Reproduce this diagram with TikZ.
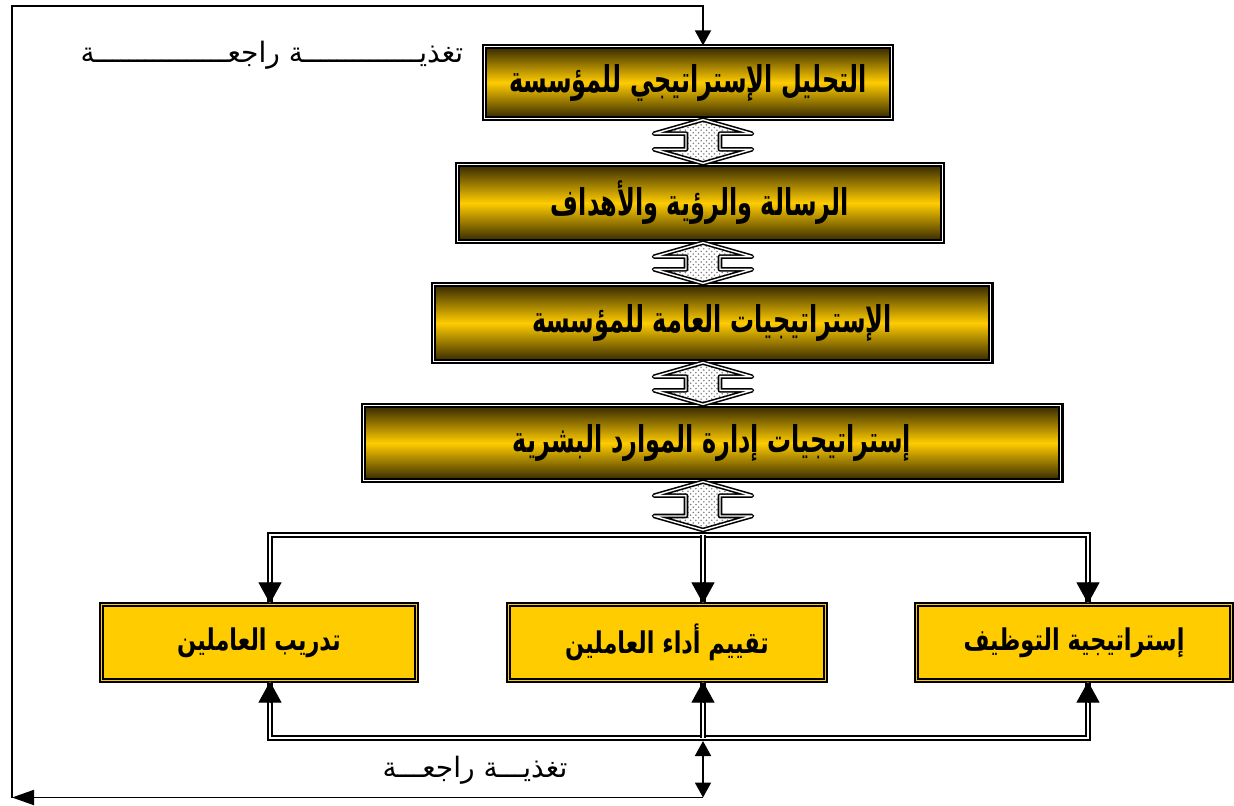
\documentclass[tikz,border=0pt]{standalone}
\usepackage{fontspec}
\usepackage{tikz}
\usetikzlibrary{arrows.meta,calc,patterns}
\newfontfamily\boxfont[Script=Arabic,FakeStretch=0.65]{DejaVu Sans}
\newfontfamily\subfont[Script=Arabic,FakeStretch=0.75]{DejaVu Sans}
\newfontfamily\labfont[Script=Arabic]{DejaVu Sans}
\TeXXeTstate=1
\definecolor{gold}{RGB}{255,204,0}
\definecolor{golddark}{RGB}{50,38,0}
\newcommand{\ar}[1]{\beginR #1\endR}
% hollow double arrow between two points on one column
\newcommand{\hollowarrow}[2]{%
  \draw[hollow] let \p1=(#1), \p2=(#2) in
    (\x1,\y1) -- (\x1+0.98cm,\y1-0.28cm) -- (\x1+0.34cm,\y1-0.28cm)
    -- (\x1+0.34cm,\y2+0.28cm) -- (\x1+0.98cm,\y2+0.28cm) -- (\x1,\y2)
    -- (\x1-0.98cm,\y2+0.28cm) -- (\x1-0.34cm,\y2+0.28cm)
    -- (\x1-0.34cm,\y1-0.28cm) -- (\x1-0.98cm,\y1-0.28cm) -- cycle;}

\tikzset{
  mainbox/.style={draw, line width=1.3pt, double=white, double distance=0.8pt,
    top color=golddark, bottom color=golddark, middle color=gold,
    inner sep=0pt, font=\boxfont\bfseries\fontsize{21}{24}\selectfont},
  subbox/.style={draw, line width=1.2pt, double=gold, double distance=0.8pt,
    fill=gold, inner sep=0pt, minimum width=6.3cm, minimum height=1.52cm,
    font=\subfont\bfseries\fontsize{17}{20}\selectfont},
  thinline/.style={line width=1.1pt},
  dline/.style={double, line width=1.2pt, double distance=1.3pt},
  hollow/.style={preaction={fill=white}, pattern=crosshatch dots,
    pattern color=gray, draw, line width=0.9pt, double=white, double distance=0.8pt,
    line join=round},
  bigtip/.style={-{Triangle[width=0.46cm,length=0.42cm]}},
  smalltip/.style={-{Triangle[width=0.32cm,length=0.3cm]}},
  fblabel/.style={font=\labfont\fontsize{16}{19}\selectfont},
}

\begin{document}
\begin{tikzpicture}
  \useasboundingbox (0,0) rectangle (24.68,-16.1);

  % main column
  \node[mainbox, minimum width=8.14cm, minimum height=1.44cm] (b1) at (13.76,-1.65) {\ar{التحليل الإستراتيجي للمؤسسة}};
  \node[mainbox, minimum width=9.7cm, minimum height=1.54cm] (b2) at (14.0,-4.06) {\ar{الرسالة والرؤية والأهداف}};
  \node[mainbox, minimum width=11.14cm, minimum height=1.54cm] (b3) at (14.24,-6.46) {\ar{الإستراتيجيات العامة للمؤسسة}};
  \node[mainbox, minimum width=13.94cm, minimum height=1.5cm] (b4) at (14.24,-8.86) {\ar{إستراتيجيات إدارة الموارد البشرية}};

  % bottom row
  \node[subbox] (b5) at (5.18,-12.85) {\ar{تدريب العاملين}};
  \node[subbox, minimum width=6.34cm] (b6) at (13.34,-12.85) {\ar{تقييم أداء العاملين}};
  \node[subbox] (b7) at (21.48,-12.85) {\ar{إستراتيجية التوظيف}};

  \coordinate (col) at (14.06,0);
  \coordinate (sp) at (14.06,-10.7);
  \coordinate (spL) at (5.4,-10.7);
  \coordinate (spR) at (21.76,-10.7);
  \coordinate (fbM) at (14.06,-14.76);
  \coordinate (fbL) at (5.4,-14.76);
  \coordinate (fbR) at (21.76,-14.76);
  \coordinate (fbend) at (14.06,-15.95);
  \coordinate (c1) at (0.24,-15.95);
  \coordinate (c2) at (0.24,-0.12);

  \hollowarrow{b1.south -| col}{b2.north -| col}
  \hollowarrow{b2.south -| col}{b3.north -| col}
  \hollowarrow{b3.south -| col}{b4.north -| col}
  \hollowarrow{b4.south -| col}{$(sp)+(0,0.1)$}

  % split to the three boxes
  \draw[dline] (b5.north -| spL) |- (spR) -- (b7.north -| spR);
  \draw[dline] (sp) -- (b6.north -| sp);
  % feedback from the three boxes
  \draw[dline] (b5.south -| fbL) |- (fbR) -- (b7.south -| fbR);
  \draw[dline] (b6.south -| fbM) -- (fbM);
  \foreach \b/\c in {b5/spL, b6/sp, b7/spR}
    {
      \draw[bigtip] ($(\b.north -| \c)+(0,0.43)$) -- (\b.north -| \c);
      \draw[bigtip] ($(\b.south -| \c)+(0,-0.43)$) -- (\b.south -| \c);
    }

  % outer feedback loop
  \draw[thinline, {Triangle[width=0.32cm,length=0.3cm]}-{Triangle[width=0.32cm,length=0.3cm]}] ($(fbM)+(0,-0.06)$) -- (fbend);
  \draw[thinline, -{Triangle[width=0.3cm,length=0.44cm]}] (fbend) -- (c1);
  \draw[thinline, smalltip] (c1) -- (c2) -| (b1.north -| col);

  \node[fblabel] (lab1) at (5.44,-1.1) {\ar{تغذيــــــــــــــة راجعــــــــــــــــة}};
  \node[fblabel] (lab2) at (9.5,-15.4) {\ar{تغذيـــة راجعـــة}};
\end{tikzpicture}
\end{document}
